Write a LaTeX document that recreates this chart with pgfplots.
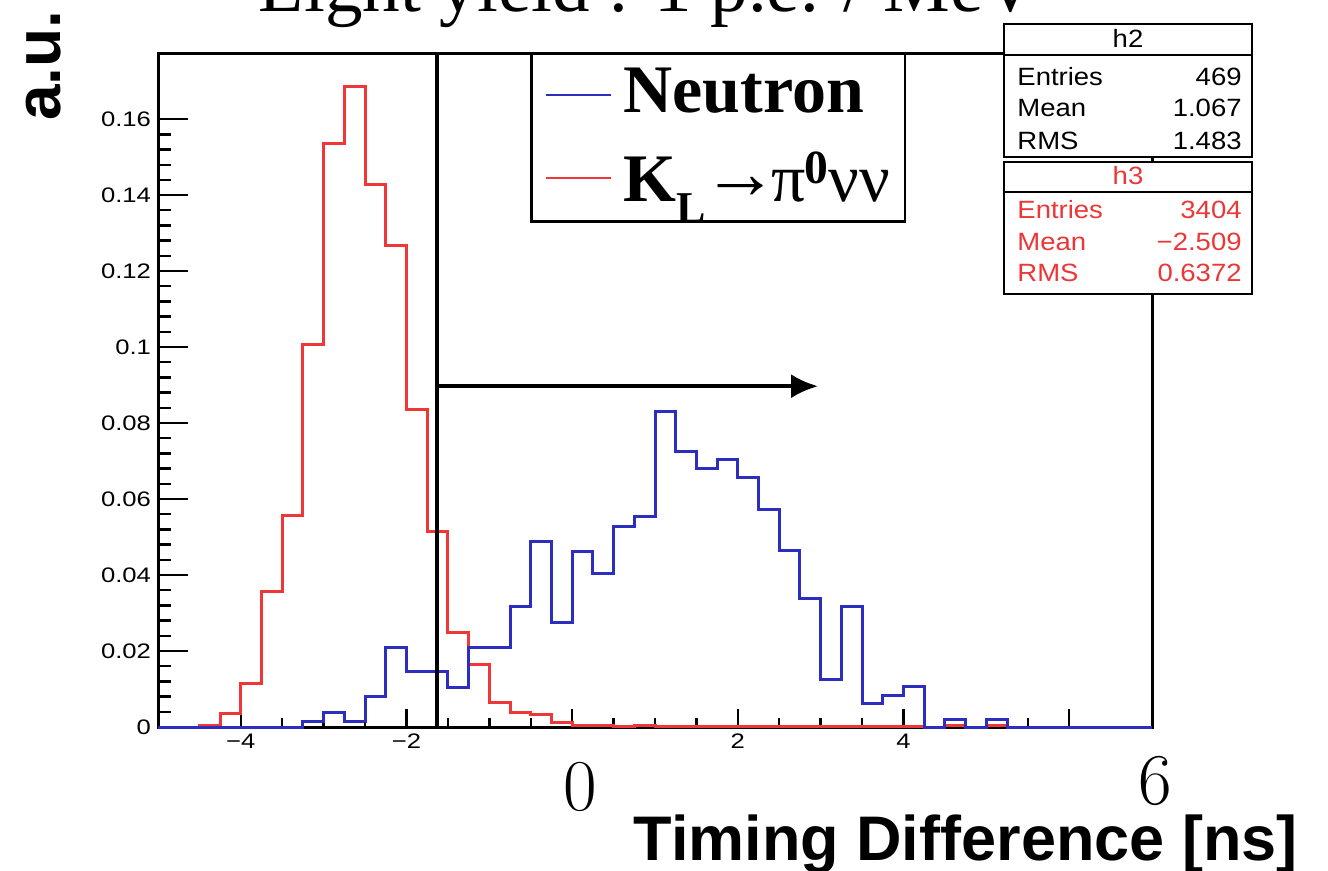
\documentclass[border=0pt]{standalone}
\usepackage{fontspec}
\usepackage{pgfplots}
\usepackage{pgfplotstable}
\pgfplotsset{compat=1.18}
\usetikzlibrary{arrows.meta}
\newfontfamily\tnr{Liberation Serif}
\newfontfamily\hel{Liberation Sans}
\newfontfamily\tickfont[FakeStretch=1.22]{Liberation Sans}
\newfontfamily\statfont[FakeStretch=1.1]{Liberation Sans}
\definecolor{hblue}{RGB}{45,45,190}
\definecolor{hred}{RGB}{240,55,55}
\definecolor{sred}{RGB}{235,55,55}

\pgfplotstableread{
x y
-5.00 0
-4.75 0
-4.50 0.0005
-4.25 0.0036
-4.00 0.0114
-3.75 0.0356
-3.50 0.0558
-3.25 0.1008
-3.00 0.1535
-2.75 0.1686
-2.50 0.1429
-2.25 0.1268
-2.00 0.0836
-1.75 0.0515
-1.50 0.0248
-1.25 0.0165
-1.00 0.0064
-0.75 0.0038
-0.50 0.0032
-0.25 0.0013
0.00 0.0004
0.25 0.0004
0.50 0.0002
0.75 0.0004
1.00 0.0002
1.25 0.0002
1.50 0.0002
1.75 0.0002
2.00 0.0002
2.25 0.0002
2.50 0.0002
2.75 0.0002
3.00 0.0002
3.25 0.0002
3.50 0.0002
3.75 0.0002
4.00 0.0002
4.25 0
4.50 0.0003
4.75 0
5.00 0.0003
5.25 0
5.50 0
5.75 0
6.00 0
6.25 0
6.50 0
6.75 0
7.00 0
}\redhist

\pgfplotstableread{
x y
-5.00 0
-4.75 0
-4.50 0
-4.25 0
-4.00 0
-3.75 0
-3.50 0
-3.25 0.0015
-3.00 0.0038
-2.75 0.0015
-2.50 0.0080
-2.25 0.0208
-2.00 0.0145
-1.75 0.0145
-1.50 0.0104
-1.25 0.0210
-1.00 0.0210
-0.75 0.0316
-0.50 0.0487
-0.25 0.0276
0.00 0.0463
0.25 0.0404
0.50 0.0529
0.75 0.0553
1.00 0.0831
1.25 0.0725
1.50 0.0680
1.75 0.0704
2.00 0.0658
2.25 0.0572
2.50 0.0465
2.75 0.0338
3.00 0.0125
3.25 0.0316
3.50 0.0061
3.75 0.0084
4.00 0.0106
4.25 0
4.50 0.0020
4.75 0
5.00 0.0020
5.25 0
5.50 0
5.75 0
6.00 0
6.25 0
6.50 0
6.75 0
7.00 0
}\bluehist

\begin{document}
\begin{tikzpicture}
\useasboundingbox (0pt,0pt) rectangle (664pt,-435.5pt);
\begin{axis}[
  at={(79pt,-363.5pt)}, anchor=south west,
  scale only axis, width=497pt, height=337pt,
  xmin=-5, xmax=7, ymin=0, ymax=0.1774, clip=false,
  xtick={-4,-2,0,2,4,6}, xticklabels={−4,−2,,2,4,},
  minor x tick num=3,
  ytick={0,0.02,0.04,0.06,0.08,0.1,0.12,0.14,0.16},
  yticklabels={0,0.02,0.04,0.06,0.08,0.1,0.12,0.14,0.16},
  scaled y ticks=false,
  minor y tick num=4,
  tick align=inside, xtick pos=bottom, ytick pos=left,
  xtick style={/pgfplots/major tick length=9pt,/pgfplots/minor tick length=4.5pt,line width=1.2pt,black},
  ytick style={/pgfplots/major tick length=15pt,/pgfplots/minor tick length=6.5pt,line width=1.2pt,black},
  axis line style={line width=1.5pt},
  ticklabel style={font=\tickfont\fontsize{10.5}{12}\selectfont},
]
\addplot[const plot, hred, line width=1.5pt] table[x=x,y=y] {\redhist};
\addplot[const plot, hblue, line width=1.5pt] table[x=x,y=y] {\bluehist};
\draw[line width=2pt] (axis cs:-1.627,0) -- (axis cs:-1.627,0.1774);
\draw[line width=2pt,-{Latex[length=13.5pt,width=12pt]}] (axis cs:-1.627,0.0897) -- (axis cs:2.97,0.0897);
\end{axis}
\begin{scope}[x=0.5pt,y=-0.5pt]
% legend
\draw[line width=1.4pt, fill=white] (531.7,53.3) rectangle (905,221.7);
\draw[hblue, line width=1.3pt] (546,95) -- (611,95);
\draw[hred, line width=1.3pt] (546,178) -- (611,178);
\node[anchor=base west, inner sep=0, font=\tnr\bfseries\fontsize{34}{36}\selectfont] at (623,113) {Neutron};
\node[anchor=base west, inner sep=0, font=\tnr\fontsize{34}{36}\selectfont] at (623,202) {\textbf{K}\raisebox{-0.3em}{\fontsize{22}{22}\selectfont\bfseries L}\kern-1.8pt\raisebox{0.05em}{\scalebox{1.12}[1.1]{\bfseries →}}\kern-3.5pt π\kern-0.5pt\textsuperscript{\bfseries 0}\kern-0.5pt νν};
% stats h2
\draw[line width=1pt, fill=white] (1004,24) rectangle (1252,157);
\draw[line width=1pt] (1004,55) -- (1252,55);
\begin{scope}[every node/.style={inner sep=0, font=\statfont\fontsize{12.5}{14}\selectfont}]
\node[anchor=base] at (1128,48) {h2};
\node[anchor=base west] at (1017,86) {Entries};
\node[anchor=base east] at (1242,86) {469};
\node[anchor=base west] at (1017,117) {Mean};
\node[anchor=base east] at (1242,117) {1.067};
\node[anchor=base west] at (1017,150) {RMS};
\node[anchor=base east] at (1242,150) {1.483};
\end{scope}
% stats h3
\draw[line width=1pt, fill=white] (1004,162) rectangle (1252,294);
\draw[line width=1pt] (1004,192) -- (1252,192);
\begin{scope}[every node/.style={inner sep=0, text=sred, font=\statfont\fontsize{12.5}{14}\selectfont}]
\node[anchor=base] at (1128,185) {h3};
\node[anchor=base west] at (1017,219) {Entries};
\node[anchor=base east] at (1242,219) {3404};
\node[anchor=base west] at (1017,251) {Mean};
\node[anchor=base east] at (1242,251) {−2.509};
\node[anchor=base west] at (1017,282) {RMS};
\node[anchor=base east] at (1242,282) {0.6372};
\end{scope}
% overlaid labels
\node[anchor=base, inner sep=0, font=\tnr\fontsize{37.5}{40}\selectfont] at (648,12) {Light yield : 1 p.e. / MeV};
\node[rotate=90, anchor=base west, inner sep=0, font=\hel\bfseries\fontsize{32}{34}\selectfont] at (61,121) {a.u.};
\node[anchor=base east, inner sep=0, font=\hel\bfseries\fontsize{31.5}{34}\selectfont] at (1298,860) {Timing Difference [ns]};
\node[inner sep=0, font=\fontsize{36.5}{40}\selectfont] at (580,787) {0};
\node[inner sep=0, font=\fontsize{36.5}{40}\selectfont] at (1155,781) {6};
\end{scope}
\end{tikzpicture}
\end{document}
